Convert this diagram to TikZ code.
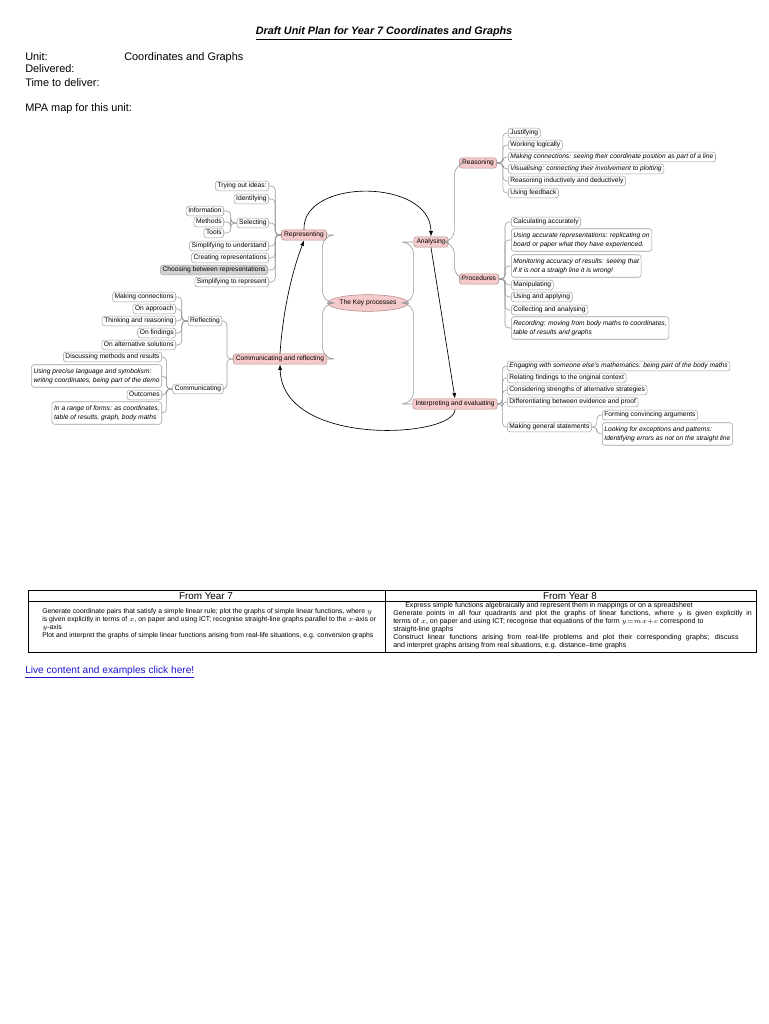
\documentclass[tikz,border=0pt]{standalone}
\usepackage{fontspec}
\setmainfont{Liberation Sans}
\usetikzlibrary{arrows.meta,shapes.geometric}
\definecolor{pinkfill}{RGB}{246,202,202}
\definecolor{pinkdraw}{RGB}{175,140,140}
\definecolor{linkblue}{RGB}{30,20,210}
\newcommand\mmfont{\fontsize{5}{7}\selectfont}
\begin{document}
\begin{tikzpicture}[x=0.75pt,y=-0.75pt,
  leaf/.style={draw=gray!75, rounded corners=2pt, fill=white, font=\mmfont, inner xsep=1.6pt, inner ysep=1.2pt, text height=3.7pt, text depth=1.1pt, align=left},
  lleaf/.style={leaf, anchor=east},
  rleaf/.style={leaf, anchor=west},
  lit/.style={lleaf, font=\mmfont\itshape, inner ysep=2.6pt, text height=, text depth=},
  rit/.style={rleaf, font=\mmfont\itshape, inner ysep=2.6pt, text height=, text depth=},
  rit1/.style={rleaf, font=\mmfont\itshape},
  key/.style={draw=pinkdraw, fill=pinkfill, rounded corners=2pt, font=\mmfont, inner xsep=2pt, inner ysep=1.5pt, text height=3.7pt, text depth=1.1pt},
  conn/.style={draw=gray!80, line width=0.45pt, rounded corners=3pt},
  bigconn/.style={draw=gray!80, line width=0.45pt, rounded corners=9pt},
  flow/.style={draw=black, line width=0.5pt, -{Latex[length=4pt,width=3pt]}},
  body/.style={font=\fontsize{8.2}{10}\selectfont, anchor=base west, inner sep=0pt},
  tbl/.style={align=left, inner sep=0pt, anchor=west},
]
\useasboundingbox (0,0) rectangle (768,1024);
\fill[white] (0,0) rectangle (768,1024);

% header text
\node[font=\fontsize{8.1}{10}\selectfont\bfseries\itshape, anchor=base, inner sep=0pt] (title) at (384,35) {\underline{Draft Unit Plan for Year 7 Coordinates and Graphs}};
\node[body] (unit) at (25,61) {Unit:};
\node[body] (unitname) at (124,61) {Coordinates and Graphs};
\node[body] (deliv) at (25,73) {Delivered:};
\node[body] (time) at (25,86) {Time to deliver:};
\node[body] (mpa) at (25,112) {MPA map for this unit:};

% central and main nodes
\node[ellipse, draw=pinkdraw, fill=pinkfill, font=\mmfont, minimum width=48pt, minimum height=12.5pt, inner sep=0pt] (kp) at (368,303) {The Key processes};
\node[key] (rep) at (304,235) {Representing};
\node[key] (ana) at (431,242) {Analysing};
\node[key] (commref) at (280,359) {Communicating and reflecting};
\node[key] (interp) at (455,404) {Interpreting and evaluating};
\node[key] (reas) at (478,163) {Reasoning};
\node[key] (proc) at (479,279) {Procedures};

% Representing branch
\node[lleaf] (tri) at (269,186) {Trying out ideas:};
\node[lleaf] (ident) at (269,199) {Identifying};
\node[lleaf] (sel) at (269,223) {Selecting};
\node[lleaf] (su) at (269,246) {Simplifying to understand};
\node[lleaf] (cr) at (269,258) {Creating representations};
\node[lleaf, fill=gray!35] (cbr) at (268,270) {Choosing between representations};
\node[lleaf] (sr) at (269,282) {Simplifying to represent};
\node[lleaf] (info) at (224,211) {Information};
\node[lleaf] (meth) at (224,222) {Methods};
\node[lleaf] (tools) at (224,233) {Tools};

% Reasoning branch
\node[rleaf] (j1) at (508,133) {Justifying};
\node[rleaf] (j2) at (508,145) {Working logically};
\node[rit1] (j3) at (508,157) {Making connections: seeing their coordinate position as part of a line};
\node[rit1] (j4) at (508,169) {Visualising: connecting their involvement to plotting};
\node[rleaf] (j5) at (508,181) {Reasoning inductively and deductively};
\node[rleaf] (j6) at (508,193) {Using feedback};

% Procedures branch
\node[rleaf] (p1) at (511,222) {Calculating accurately};
\node[rit] (p2) at (511,240) {Using accurate representations: replicating on\\board or paper what they have experienced.};
\node[rit] (p3) at (511,266) {Monitoring accuracy of results: seeing that\\if it is not a straigh line it is wrong!};
\node[rleaf] (p4) at (511,285) {Manipulating};
\node[rleaf] (p5) at (511,297) {Using and applying};
\node[rleaf] (p6) at (511,310) {Collecting and analysing};
\node[rit] (p7) at (511,328) {Recording: moving from body maths to coordinates,\\table of results and graphs};

% Reflecting / Communicating
\node[leaf] (refl) at (205,321) {Reflecting};
\node[leaf] (commu) at (198,389) {Communicating};
\node[lleaf] (r1) at (176,297) {Making connections};
\node[lleaf] (r2) at (176,309) {On approach};
\node[lleaf] (r3) at (176,321) {Thinking and reasoning};
\node[lleaf] (r4) at (176,333) {On findings};
\node[lleaf] (r5) at (176,345) {On alternative solutions};
\node[lleaf] (c1) at (162,357) {Discussing methods and results};
\node[lit] (c2) at (162,376) {Using precise language and symbolism:\\writing coordinates, being part of the demo};
\node[lleaf] (c3) at (162,395) {Outcomes};
\node[lit] (c4) at (162,413) {In a range of forms: as coordinates,\\table of results, graph, body maths};

% Interpreting branch
\node[rit1] (i1) at (507,366) {Engaging with someone else's mathematics: being part of the body maths};
\node[rleaf] (i2) at (507,378) {Relating findings to the original context};
\node[rleaf] (i3) at (507,390) {Considering strengths of alternative strategies};
\node[rleaf] (i4) at (507,402) {Differentiating between evidence and proof};
\node[rleaf] (mgs) at (507,427) {Making general statements};
\node[rleaf] (m1) at (602,415) {Forming convincing arguments};
\node[rit] (m2) at (602,434) {Looking for exceptions and patterns:\\Identifying errors as not on the straight line};

% bracket connectors
\foreach \c in {tri,ident,sel,su,cr,cbr,sr} \draw[conn] (rep.west) -- ++(-6,0) |- (\c.east);
\foreach \c in {info,meth,tools} \draw[conn] (sel.west) -- ++(-6,0) |- (\c.east);
\foreach \c in {j1,j2,j3,j4,j5,j6} \draw[conn] (reas.east) -- ++(6,0) |- (\c.west);
\foreach \c in {p1,p2,p3,p4,p5,p6,p7} \draw[conn] (proc.east) -- ++(6,0) |- (\c.west);
\foreach \c in {r1,r2,r3,r4,r5} \draw[conn] (refl.west) -- ++(-6,0) |- (\c.east);
\foreach \c in {c1,c2,c3,c4} \draw[conn] (commu.west) -- ++(-6,0) |- (\c.east);
\foreach \c in {refl,commu} \draw[conn] (commref.west) -- ++(-6,0) |- (\c.east);
\foreach \c in {i1,i2,i3,i4,mgs} \draw[conn] (interp.east) -- ++(5,0) |- (\c.west);
\foreach \c in {m1,m2} \draw[conn] (mgs.east) -- ++(5,0) |- (\c.west);
\foreach \c in {reas,proc} \draw[bigconn] (ana.east) -- ++(6,0) |- (\c.west);
\foreach \c in {rep,commref} \draw[bigconn] (kp.west) -- ++(-5,0) |- (\c.east);
\foreach \c in {ana,interp} \draw[bigconn] (kp.east) -- ++(5,0) |- (\c.west);

% process arrows
\draw[flow] (rep.north) .. controls (302,178) and (431,178) .. (ana.north);
\draw[flow] (ana.south) -- (interp.north);
\draw[flow] (interp.south) .. controls (455,438) and (282,448) .. (commref.south);
\draw[flow] (commref.north) .. controls (283,310) and (292,272) .. (rep.south);

% table
\draw[line width=0.7pt] (28,590) rectangle (756,652);
\draw[line width=0.7pt] (28,601) -- (756,601);
\draw[line width=0.7pt] (385,590) -- (385,652);
\node[font=\fontsize{7.4}{9}\selectfont, inner sep=0pt] (h7) at (206,596) {From Year 7};
\node[font=\fontsize{7.4}{9}\selectfont, inner sep=0pt] (h8) at (570,596) {From Year 8};
\node[tbl, font=\fontsize{5.15}{6.1}\selectfont] (t7) at (42,624) {Generate coordinate pairs that satisfy a simple linear rule; plot the graphs of simple linear functions, where $y$\\
is given explicitly in terms of $x$, on paper and using ICT; recognise straight-line graphs parallel to the $x$-axis or\\
$y$-axis\\
Plot and interpret the graphs of simple linear functions arising from real-life situations, e.g. conversion graphs};
\node[tbl, font=\fontsize{5.3}{6}\selectfont] (t8) at (393,626) {\hspace*{9pt}Express simple functions algebraically and represent them in mappings or on a spreadsheet\\
\makebox[269pt][s]{Generate points in all four quadrants and plot the graphs of linear functions, where $y$ is given explicitly in}\\
terms of $x$, on paper and using ICT; recognise that equations of the form $y{=}mx{+}c$ correspond to\\
straight-line graphs\\
\makebox[259pt][s]{Construct linear functions arising from real-life problems and plot their corresponding graphs; discuss}\\
and interpret graphs arising from real situations, e.g. distance–time graphs};

% link
\node[body, text=linkblue, font=\fontsize{7.6}{9}\selectfont] (link) at (25,673) {\underline{Live content and examples click here!}};
\end{tikzpicture}
\end{document}
